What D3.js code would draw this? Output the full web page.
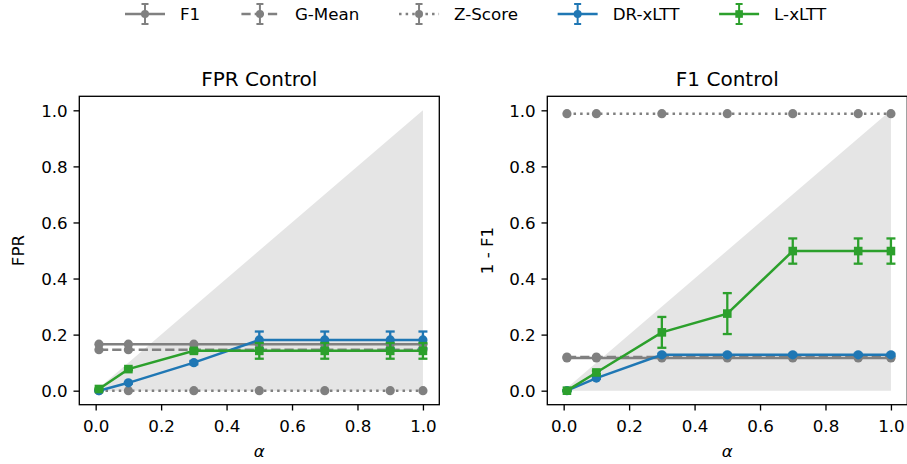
<!DOCTYPE html>
<html>
<head>
<meta charset="utf-8">
<script src="https://cdn.jsdelivr.net/npm/d3@7"></script>
<style>
  body { margin: 0; background: #fff; }
  svg { display: block; font-family: "DejaVu Sans", sans-serif; }
</style>
</head>
<body>
<svg id="main" width="907" height="464"></svg>
<script>
// alpha levels used on both panels
var alphas = [0.01, 0.1, 0.3, 0.5, 0.7, 0.9, 1.0];
var shadeX = [0, 1];

// FPR control panel
var fprF1 = [0.166, 0.166, 0.166, 0.166, 0.166, 0.166, 0.166];
var fprGMean = [0.146, 0.146, 0.146, 0.146, 0.146, 0.146, 0.146];
var fprZScore = [0, 0, 0, 0, 0, 0, 0];
var fprDR = [0.0, 0.028, 0.100, 0.181, 0.181, 0.181, 0.181];
var fprDRErr = [0.001, 0.003, 0.006, 0.030, 0.030, 0.030, 0.030];
var fprL = [0.006, 0.077, 0.142, 0.142, 0.142, 0.142, 0.142];
var fprLErr = [0.002, 0.004, 0.006, 0.028, 0.028, 0.028, 0.028];

// F1 control panel
var f1F1 = [0.117, 0.117, 0.117, 0.117, 0.117, 0.117, 0.117];
var f1GMean = [0.120, 0.120, 0.120, 0.120, 0.120, 0.120, 0.120];
var f1ZScore = [0.988, 0.988, 0.988, 0.988, 0.988, 0.988, 0.988];
var f1DR = [0.0, 0.045, 0.128, 0.128, 0.128, 0.128, 0.128];
var f1DRErr = [0.001, 0.003, 0.004, 0.004, 0.004, 0.004, 0.004];
var f1L = [0.0, 0.065, 0.208, 0.275, 0.498, 0.498, 0.498];
var f1LErr = [0.002, 0.006, 0.055, 0.073, 0.045, 0.045, 0.045];

var ticks = [0, 0.2, 0.4, 0.6, 0.8, 1.0];
var seriesNames = ["F1", "G-Mean", "Z-Score", "DR-xLTT", "L-xLTT"];

var gray = "#808080", blue = "#1f77b4", green = "#2ca02c";
var styles = [
    {color: gray, dash: null, marker: "circle"},
    {color: gray, dash: "9.25,4", marker: "circle"},
    {color: gray, dash: "2.5,4.1", marker: "circle"},
    {color: blue, dash: null, marker: "circle"},
    {color: green, dash: null, marker: "square"}
];

var zeros = alphas.map(function() { return 0; });
var panels = [
    {title: "FPR Control", ylabel: "FPR", x0: 79.3, ylabX: 24,
     series: [[fprF1, zeros], [fprGMean, zeros], [fprZScore, zeros], [fprDR, fprDRErr], [fprL, fprLErr]]},
    {title: "F1 Control", ylabel: "1 - F1", x0: 547.3, ylabX: 493,
     series: [[f1F1, zeros], [f1GMean, zeros], [f1ZScore, zeros], [f1DR, f1DRErr], [f1L, f1LErr]]}
];

var svg = d3.select("#main");
var plotTop = 96.3, plotBottom = 404.7, w = 360;
var fs = 16.7;

function drawMarker(g, type, cx, cy, r, color) {
    if (type == "square") {
        g.append("rect")
            .attr("x", cx - r).attr("y", cy - r)
            .attr("width", 2 * r).attr("height", 2 * r)
            .attr("fill", color);
    } else {
        g.append("circle")
            .attr("cx", cx).attr("cy", cy).attr("r", r)
            .attr("fill", color);
    }
}

panels.forEach(function(p) {
    var x = d3.scaleLinear().domain([-0.05, 1.05]).range([p.x0, p.x0 + w]);
    var y = d3.scaleLinear().domain([-0.05, 1.05]).range([plotBottom, plotTop]);
    var g = svg.append("g");

    // shaded region where the risk is below alpha
    g.append("path")
        .attr("fill", "#e5e5e5")
        .attr("d", d3.area().x(function(d) { return x(d); })
            .y0(y(0)).y1(function(d) { return y(d); })(shadeX));

    p.series.forEach(function(s, k) {
        var vals = s[0], errs = s[1], st = styles[k];
        var sg = g.append("g");
        alphas.forEach(function(a, i) {
            if (errs[i] <= 0) return;
            var cx = x(a), ya = y(vals[i] - errs[i]), yb = y(vals[i] + errs[i]);
            sg.append("line").attr("x1", cx).attr("x2", cx).attr("y1", ya).attr("y2", yb)
                .attr("stroke", st.color).attr("stroke-width", 2.3);
            [ya, yb].forEach(function(yy) {
                sg.append("line").attr("x1", cx - 4.5).attr("x2", cx + 4.5)
                    .attr("y1", yy).attr("y2", yy)
                    .attr("stroke", st.color).attr("stroke-width", 2.3);
            });
        });
        sg.append("path")
            .attr("fill", "none")
            .attr("stroke", st.color)
            .attr("stroke-width", 2.5)
            .attr("stroke-dasharray", st.dash)
            .attr("d", d3.line().x(function(d) { return x(d); })
                .y(function(d, i) { return y(vals[i]); })(alphas));
        alphas.forEach(function(a, i) {
            drawMarker(sg, st.marker, x(a), y(vals[i]), st.marker == "square" ? 4.3 : 4.6, st.color);
        });
    });

    // axes frame
    g.append("rect")
        .attr("x", p.x0).attr("y", plotTop)
        .attr("width", w).attr("height", plotBottom - plotTop)
        .attr("fill", "none").attr("stroke", "#000").attr("stroke-width", 1.33);

    var xa = g.append("g")
        .attr("transform", "translate(0," + plotBottom + ")")
        .call(d3.axisBottom(x).tickValues(ticks).tickSize(5.8).tickPadding(4)
            .tickFormat(d3.format(".1f")));
    var ya = g.append("g")
        .attr("transform", "translate(" + p.x0 + ",0)")
        .call(d3.axisLeft(y).tickValues(ticks).tickSize(5.8).tickPadding(5.8)
            .tickFormat(d3.format(".1f")));
    [xa, ya].forEach(function(ax) {
        ax.select(".domain").remove();
        ax.selectAll("line").attr("stroke", "#000").attr("stroke-width", 1.33);
        ax.selectAll("text").attr("fill", "#000")
            .style("font-size", fs + "px")
            .style("font-family", "DejaVu Sans");
    });
    xa.selectAll("text").attr("y", 27.8).attr("dy", null);
    ya.selectAll("text").attr("dy", "0.36em");

    g.append("text")
        .attr("x", p.x0 + w / 2).attr("y", 86)
        .attr("text-anchor", "middle")
        .style("font-size", "20px")
        .text(p.title);
    g.append("text")
        .attr("x", p.x0 + w / 2).attr("y", 457)
        .attr("text-anchor", "middle")
        .style("font-size", fs + "px")
        .style("font-style", "italic")
        .text("α");
    g.append("text")
        .attr("transform", "translate(" + p.ylabX + "," + (plotTop + plotBottom) / 2 + ") rotate(-90)")
        .attr("text-anchor", "middle")
        .style("font-size", fs + "px")
        .text(p.ylabel);
});

// legend across the top
var leg = svg.append("g");
var lx = 125, ly = 14, handleLen = 40, textGap = 15, colSpace = 39.7;
seriesNames.forEach(function(name, k) {
    var st = styles[k];
    var item = leg.append("g");
    item.append("line")
        .attr("x1", lx).attr("x2", lx + handleLen).attr("y1", ly).attr("y2", ly)
        .attr("stroke", st.color).attr("stroke-width", 2.5)
        .attr("stroke-dasharray", st.dash == null ? null : (k == 1 ? "9.25,4" : "2.5,4.1"))
        .attr("stroke-dashoffset", k == 1 ? -1.5 : 0);
    var cx = lx + handleLen / 2;
    item.append("line").attr("x1", cx).attr("x2", cx).attr("y1", ly - 10).attr("y2", ly + 10)
        .attr("stroke", st.color).attr("stroke-width", 2);
    [ly - 10, ly + 10].forEach(function(yy) {
        item.append("line").attr("x1", cx - 3.5).attr("x2", cx + 3.5).attr("y1", yy).attr("y2", yy)
            .attr("stroke", st.color).attr("stroke-width", 2);
    });
    drawMarker(item, st.marker, cx, ly, st.marker == "square" ? 3.8 : 4, st.color);
    var t = item.append("text")
        .attr("x", lx + handleLen + textGap).attr("y", ly).attr("dy", "0.36em")
        .style("font-size", fs + "px")
        .text(name);
    lx = lx + handleLen + textGap + t.node().getComputedTextLength() + colSpace;
});
</script>
</body>
</html>
